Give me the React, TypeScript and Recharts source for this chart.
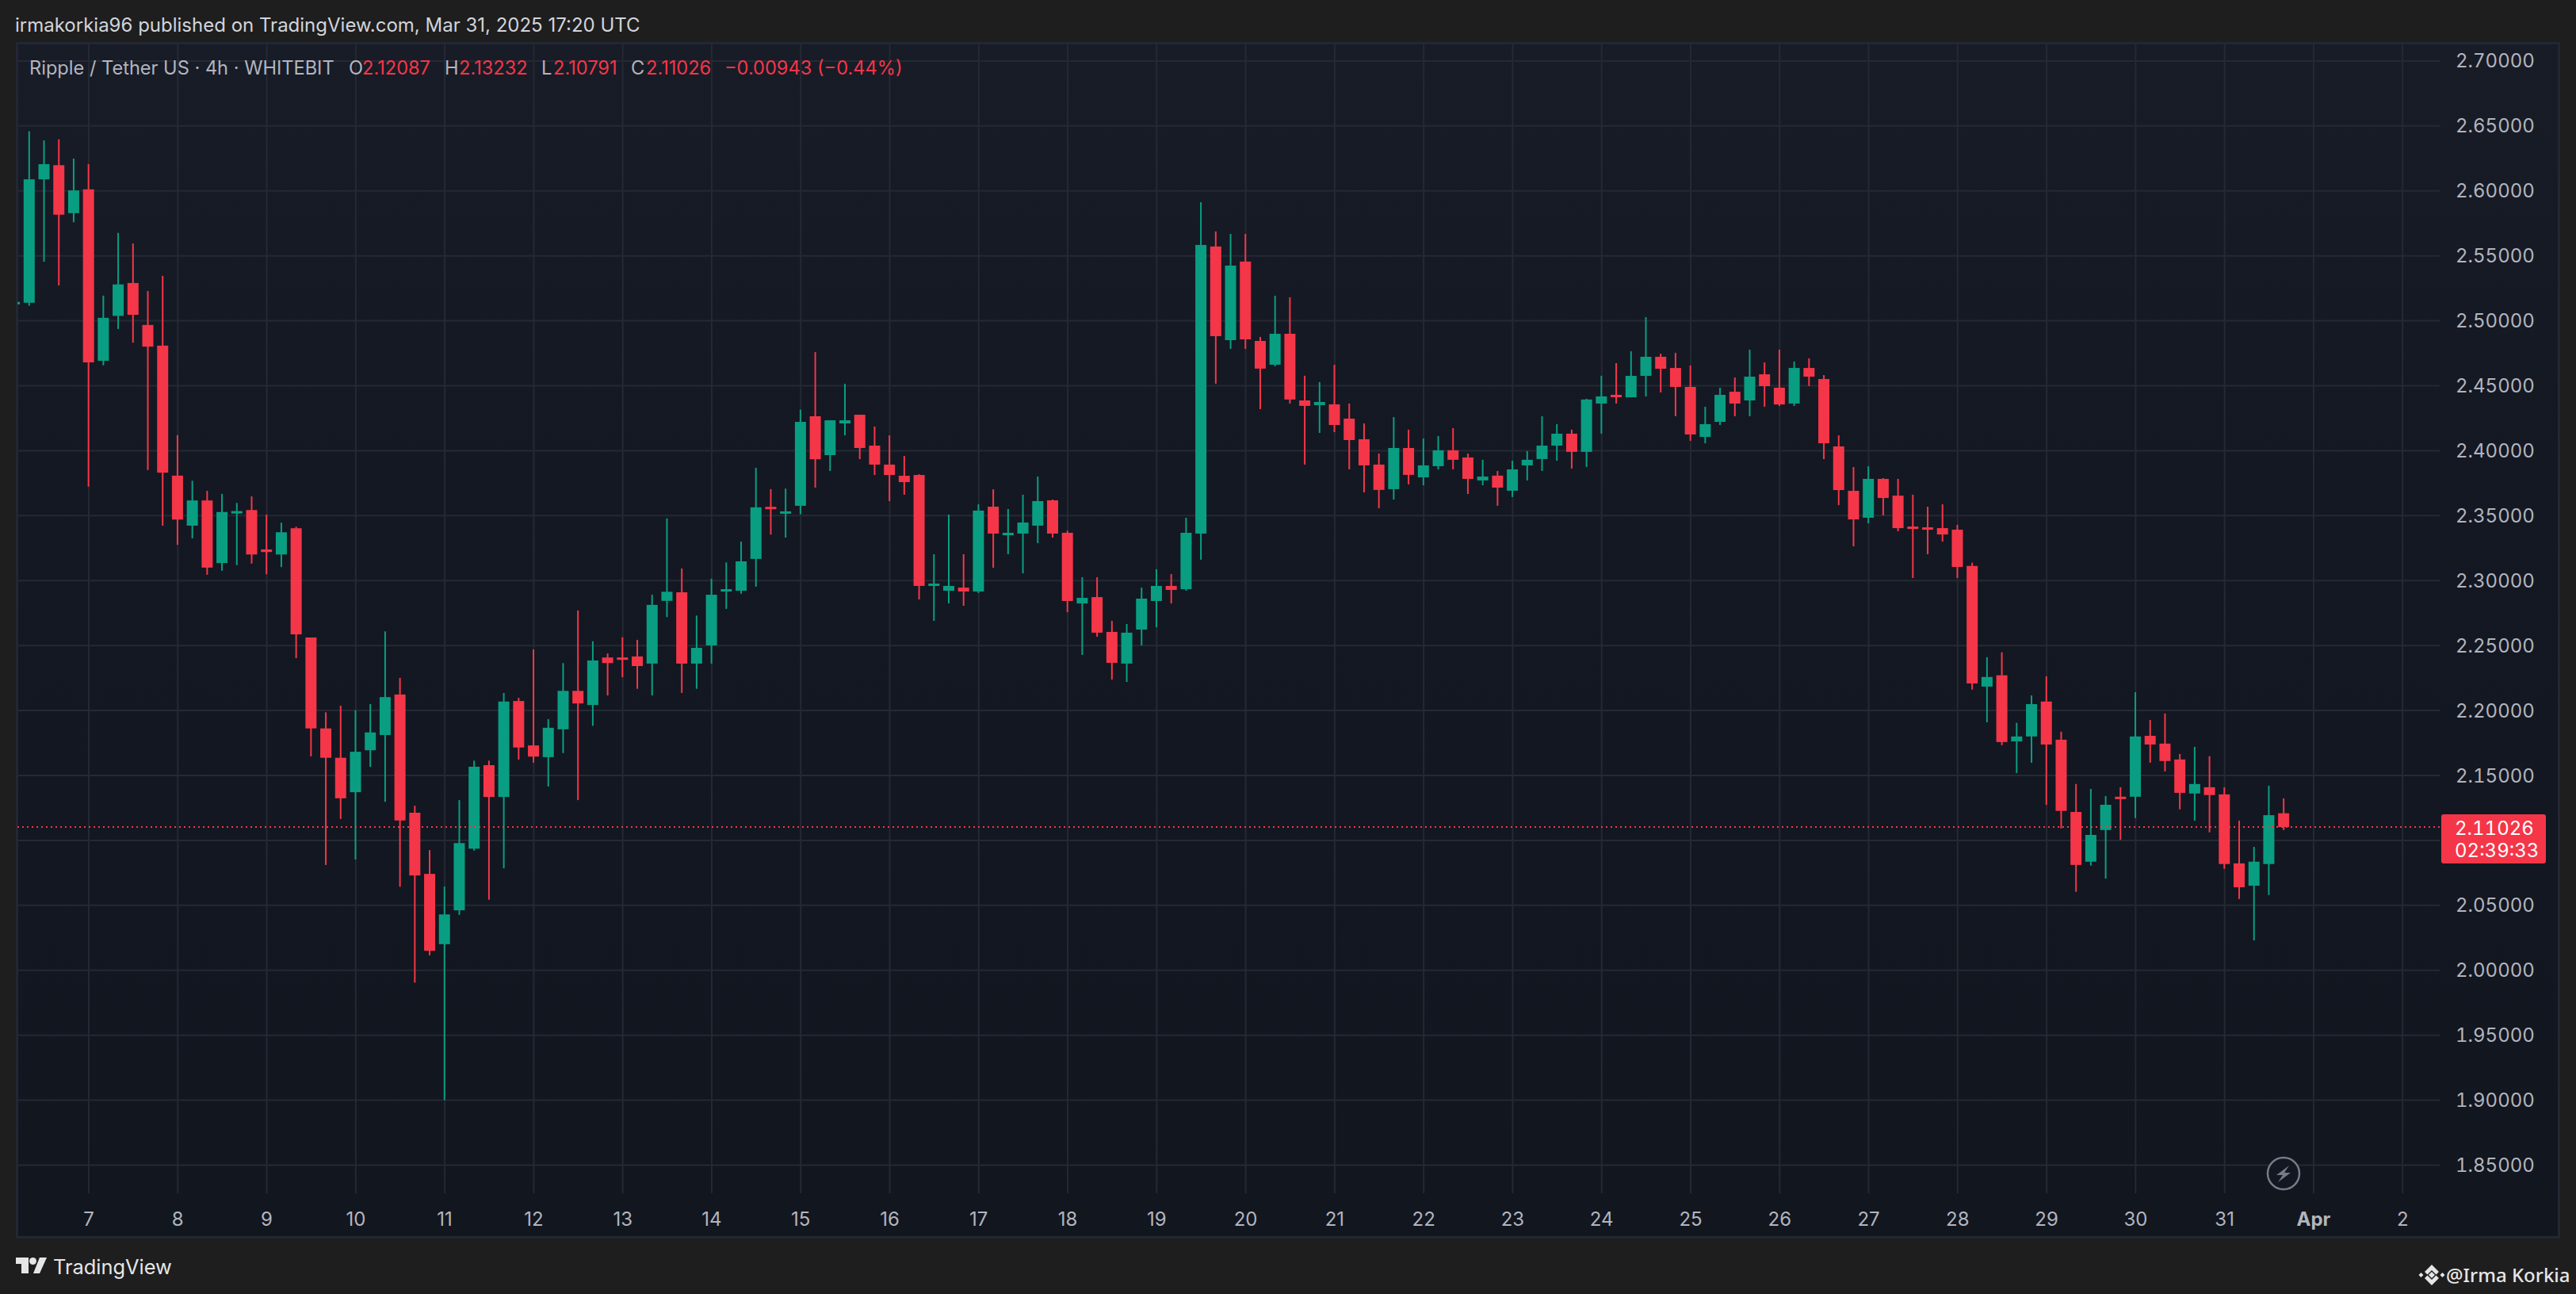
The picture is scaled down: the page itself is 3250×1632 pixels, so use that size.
import React from 'react'
import { ComposedChart, Bar, CartesianGrid, XAxis, YAxis, ReferenceLine } from 'recharts'

// 4h candles, Mar 6 04:00 to Mar 31 16:00, one row per day
const opens = [
  2.5130, 2.5139, 2.6089, 2.6198, 2.5829,
  2.6012, 2.4692, 2.5038, 2.5291, 2.4968, 2.4809,
  2.3808, 2.3423, 2.3617, 2.3135, 2.3524, 2.3543,
  2.3240, 2.3201, 2.3403, 2.2562, 2.1862, 2.1636,
  2.1371, 2.1694, 2.1811, 2.2123, 2.1213, 2.0742,
  2.0201, 2.0462, 2.0936, 2.1579, 2.1334, 2.2073,
  2.1731, 2.1641, 2.1855, 2.2151, 2.2042, 2.2408,
  2.2408, 2.2416, 2.2361, 2.2844, 2.2910, 2.2361,
  2.2501, 2.2922, 2.2922, 2.3167, 2.3568, 2.3521,
  2.3576, 2.4265, 2.3966, 2.4210, 2.4277, 2.4039,
  2.3893, 2.3807, 2.3813, 2.2965, 2.2922, 2.2946,
  2.2916, 2.3569, 2.3349, 2.3362, 2.3423, 2.3618,
  2.3368, 2.2824, 2.2873, 2.2605, 2.2361, 2.2623,
  2.2843, 2.2959, 2.2934, 2.3362, 2.5572, 2.4851,
  2.5456, 2.4845, 2.4662, 2.4900, 2.4387, 2.4351,
  2.4357, 2.4247, 2.4088, 2.3893, 2.3704, 2.4021,
  2.3795, 2.3881, 2.4003, 2.3948, 2.3771, 2.3808,
  2.3692, 2.3887, 2.3936, 2.4039, 2.4131, 2.3991,
  2.4363, 2.4430, 2.4411, 2.4576, 2.4723, 2.4637,
  2.4491, 2.4106, 2.4222, 2.4454, 2.4387, 2.4588,
  2.4485, 2.4363, 2.4637, 2.4552, 2.4033, 2.3691,
  2.3484, 2.3783, 2.3654, 2.3416, 2.3410, 2.3404,
  2.3392, 2.3113, 2.2184, 2.2271, 2.1762, 2.1800,
  2.2069, 2.1775, 2.1219, 2.0836, 2.1080, 2.1336,
  2.1336, 2.1805, 2.1745, 2.1623, 2.1361, 2.1409,
  2.1354, 2.0823, 2.0651, 2.0818, 2.12087,
]
const closes = [
  2.5145, 2.6089, 2.6206, 2.5817, 2.6004,
  2.4680, 2.5023, 2.5280, 2.5046, 2.4801, 2.3831,
  2.3470, 2.3617, 2.3100, 2.3528, 2.3535, 2.3201,
  2.3220, 2.3372, 2.2586, 2.1862, 2.1636, 2.1324,
  2.1682, 2.1831, 2.2103, 2.1153, 2.0730, 2.0150,
  2.0430, 2.0979, 2.1567, 2.1334, 2.2069, 2.1715,
  2.1645, 2.1867, 2.2151, 2.2054, 2.2385, 2.2365,
  2.2396, 2.2342, 2.2813, 2.2914, 2.2361, 2.2482,
  2.2891, 2.2934, 2.3148, 2.3564, 2.3556, 2.3533,
  2.4222, 2.3934, 2.4234, 2.4234, 2.4021, 2.3893,
  2.3813, 2.3758, 2.2959, 2.2977, 2.2959, 2.2916,
  2.3539, 2.3362, 2.3368, 2.3447, 2.3612, 2.3362,
  2.2843, 2.2867, 2.2599, 2.2367, 2.2599, 2.2861,
  2.2959, 2.2928, 2.3368, 2.5584, 2.4882, 2.5425,
  2.4857, 2.4632, 2.4900, 2.4394, 2.4345, 2.4375,
  2.4198, 2.4082, 2.3887, 2.3698, 2.4021, 2.3814,
  2.3887, 2.4003, 2.3930, 2.3783, 2.3801, 2.3716,
  2.3856, 2.3930, 2.4039, 2.4131, 2.3991, 2.4394,
  2.4418, 2.4417, 2.4576, 2.4723, 2.4631, 2.4491,
  2.4125, 2.4204, 2.4430, 2.4363, 2.4570, 2.4497,
  2.4356, 2.4637, 2.4570, 2.4057, 2.3697, 2.3471,
  2.3783, 2.3636, 2.3404, 2.3404, 2.3398, 2.3355,
  2.3105, 2.2208, 2.2258, 2.1757, 2.1800, 2.2049,
  2.1738, 2.1227, 2.0811, 2.1042, 2.1274, 2.1324,
  2.1800, 2.1738, 2.1611, 2.1366, 2.1434, 2.1349,
  2.0818, 2.0639, 2.0836, 2.1194, 2.11026,
]
const highs = [
  2.5146, 2.6459, 2.6389, 2.6397, 2.6249,
  2.6206, 2.5194, 2.5677, 2.5595, 2.5229, 2.5346,
  2.4120, 2.3769, 2.3691, 2.3668, 2.3598, 2.3648,
  2.3508, 2.3446, 2.3415, 2.2562, 2.1986, 2.2037,
  2.2002, 2.2049, 2.2609, 2.2251, 2.1267, 2.0925,
  2.0644, 2.1310, 2.1614, 2.1614, 2.2135, 2.2097,
  2.2470, 2.1933, 2.2365, 2.2770, 2.2533, 2.2439,
  2.2564, 2.2544, 2.2891, 2.3479, 2.3093, 2.2731,
  2.3015, 2.3140, 2.3300, 2.3868, 2.3704, 2.3708,
  2.4316, 2.4759, 2.4234, 2.4515, 2.4277, 2.4186,
  2.4118, 2.3960, 2.3819, 2.3203, 2.3508, 2.3203,
  2.3587, 2.3703, 2.3551, 2.3661, 2.3801, 2.3624,
  2.3384, 2.3026, 2.3026, 2.2690, 2.2666, 2.2946,
  2.3087, 2.3050, 2.3484, 2.5913, 2.5688, 2.5669,
  2.5669, 2.4876, 2.5193, 2.5181, 2.4577, 2.4528,
  2.4662, 2.4363, 2.4210, 2.3978, 2.4259, 2.4162,
  2.4094, 2.4113, 2.4174, 2.3978, 2.3930, 2.3844,
  2.3923, 2.3997, 2.4265, 2.4204, 2.4162, 2.4400,
  2.4577, 2.4674, 2.4765, 2.5028, 2.4747, 2.4753,
  2.4656, 2.4338, 2.4485, 2.4564, 2.4778, 2.4680,
  2.4778, 2.4686, 2.4711, 2.4582, 2.4118, 2.3874,
  2.3880, 2.3789, 2.3783, 2.3661, 2.3569, 2.3587,
  2.3429, 2.3138, 2.2410, 2.2448, 2.1905, 2.2116,
  2.2263, 2.1837, 2.1434, 2.1396, 2.1341, 2.1409,
  2.2141, 2.1927, 2.1977, 2.1665, 2.1720, 2.1648,
  2.1409, 2.1152, 2.0950, 2.1421, 2.13232,
]
const lows = [
  2.5130, 2.5116, 2.5455, 2.5272, 2.5759,
  2.3723, 2.4657, 2.4937, 2.4832, 2.3851, 2.3423,
  2.3275, 2.3325, 2.3045, 2.3076, 2.3119, 2.3131,
  2.3049, 2.3104, 2.2403, 2.1647, 2.0811, 2.1165,
  2.0853, 2.1566, 2.1297, 2.0643, 1.9905, 2.0115,
  1.9000, 2.0426, 2.0921, 2.0543, 2.0785, 2.1622,
  2.1598, 2.1415, 2.1672, 2.1310, 2.1882, 2.2116,
  2.2256, 2.2167, 2.2116, 2.2719, 2.2135, 2.2167,
  2.2361, 2.2782, 2.2899, 2.2953, 2.3354, 2.3331,
  2.3510, 2.3716, 2.3844, 2.4118, 2.3935, 2.3813,
  2.3612, 2.3661, 2.2855, 2.2690, 2.2824, 2.2806,
  2.2904, 2.3099, 2.3203, 2.3056, 2.3288, 2.3331,
  2.2757, 2.2428, 2.2568, 2.2238, 2.2220, 2.2501,
  2.2641, 2.2824, 2.2922, 2.3161, 2.4516, 2.4784,
  2.4784, 2.4320, 2.4650, 2.4363, 2.3893, 2.4137,
  2.4143, 2.3856, 2.3679, 2.3557, 2.3624, 2.3740,
  2.3734, 2.3856, 2.3856, 2.3667, 2.3734, 2.3576,
  2.3643, 2.3771, 2.3844, 2.3923, 2.3862, 2.3875,
  2.4131, 2.4363, 2.4411, 2.4417, 2.4448, 2.4265,
  2.4076, 2.4057, 2.4198, 2.4265, 2.4265, 2.4338,
  2.4344, 2.4344, 2.4497, 2.3935, 2.3581, 2.3264,
  2.3441, 2.3502, 2.3380, 2.3020, 2.3203, 2.3300,
  2.3020, 2.2161, 2.1909, 2.1733, 2.1518, 2.1598,
  2.1274, 2.1092, 2.0604, 2.0806, 2.0706, 2.1005,
  2.1172, 2.1598, 2.1531, 2.1239, 2.1152, 2.1062,
  2.0781, 2.0549, 2.0230, 2.0579, 2.10791,
]

const dayLabels = ['7', '8', '9', '10', '11', '12', '13', '14', '15', '16', '17', '18', '19', '20', '21', '22', '23', '24', '25', '26', '27', '28', '29', '30', '31', 'Apr', '2']
const priceTicks = [1.85, 1.9, 1.95, 2.0, 2.05, 2.1, 2.15, 2.2, 2.25, 2.3, 2.35, 2.4, 2.45, 2.5, 2.55, 2.6, 2.65, 2.7]
const lastPrice = 2.11026
const countdown = '02:39:33'

const UP = '#099e82'
const DOWN = '#f43648'
const GRID = '#252933'
const AXIS_TEXT = '#b2b5be'
const FONT = 'Inter, sans-serif'

// x is counted in candles from Mar 7 00:00
const data = opens.map((open, i) => ({
  t: i - 5,
  open,
  close: closes[i],
  high: highs[i],
  low: lows[i],
  range: [lows[i], highs[i]],
}))
const dayTicks = dayLabels.map((_, i) => i * 6)

const Candle = (props: any) => {
  const { x, y, width, height, payload } = props
  const { open, close, high, low } = payload
  const cx = x + width / 2
  const perUnit = height / (high - low)
  const top = y + (high - Math.max(open, close)) * perUnit
  const bodyH = Math.max(Math.abs(open - close) * perUnit, 3)
  const color = close >= open ? UP : DOWN
  return (
    <g>
      <rect x={cx - 1} y={y} width={2} height={height} fill={color} />
      <rect x={x} y={top} width={width} height={bodyH} fill={color} />
    </g>
  )
}

const DayTick = (props: any) => {
  const { x, y, payload } = props
  const label = dayLabels[payload.value / 6]
  return (
    <text x={x} y={y + 30} textAnchor="middle" dominantBaseline="central" fill={AXIS_TEXT} fontFamily={FONT} fontSize={24} fontWeight={label === 'Apr' ? 700 : 400}>
      {label}
    </text>
  )
}

const PriceTag = (props: any) => {
  const { x, y, width } = props.viewBox
  const left = x + width + 2
  const numStyle = { fontVariantNumeric: 'tabular-nums' }
  return (
    <g>
      <rect x={left} y={y - 16} width={132} height={62} rx={3} fill={DOWN} />
      <text x={left + 17} y={y + 1} dominantBaseline="central" fill="#ffffff" fontFamily={FONT} fontSize={24} style={numStyle}>{lastPrice.toFixed(5)}</text>
      <text x={left + 17} y={y + 29} dominantBaseline="central" fill="#ffffff" fontFamily={FONT} fontSize={24} style={numStyle}>{countdown}</text>
    </g>
  )
}

const Label = ({ x, y, color, size = 23.6, font = FONT, weight = 400, children }: any) => (
  <div style={{ position: 'absolute', left: x, top: y, transform: 'translateY(-50%)', color, fontSize: size, fontFamily: font, fontWeight: weight, whiteSpace: 'pre', lineHeight: 1.2 }}>
    {children}
  </div>
)

const App = () => {
  const o = opens[opens.length - 1]
  const c = closes[closes.length - 1]
  const h = highs[highs.length - 1]
  const l = lows[lows.length - 1]
  return (
    <div style={{ position: 'absolute', left: 0, top: 0, width: 3250, height: 1632, background: '#1e1e1e', overflow: 'hidden' }}>
      <div style={{ position: 'absolute', left: 20, top: 53, width: 3210, height: 1509, boxSizing: 'border-box', border: '3px solid #232733', background: 'linear-gradient(#181c27, #141823 35%, #12161f)' }} />

      <div style={{ position: 'absolute', left: 0, top: 0 }}>
        <ComposedChart width={3250} height={1632} data={data} margin={{ top: 55, right: 0, bottom: 0, left: 22 }} barSize={14}>
          <CartesianGrid stroke={GRID} strokeWidth={2} syncWithTicks />
          <XAxis dataKey="t" type="number" domain={[-4.81, 158.5]} ticks={dayTicks} interval={0} allowDataOverflow height={127} tickSize={0} axisLine={false} tickLine={false} tick={<DayTick />} />
          <YAxis orientation="right" type="number" domain={[1.8283, 2.7134]} ticks={priceTicks} interval={0} allowDataOverflow width={172} tickSize={0} tickMargin={20} axisLine={false} tickLine={false} tick={{ fill: AXIS_TEXT, fontSize: 24, fontFamily: FONT, style: { fontVariantNumeric: 'tabular-nums' } }} tickFormatter={(v: number) => (v === 2.1 ? '' : v.toFixed(5))} />
          <ReferenceLine y={lastPrice} stroke={DOWN} strokeWidth={2} strokeDasharray="2 4" label={<PriceTag />} />
          <Bar dataKey="range" shape={<Candle />} isAnimationActive={false} />
        </ComposedChart>
      </div>

      <Label x={19} y={32} color="#d1d4dc" size={24}>irmakorkia96 published on TradingView.com, Mar 31, 2025 17:20 UTC</Label>
      <Label x={37} y={86} color={AXIS_TEXT}>Ripple / Tether US · 4h · WHITEBIT</Label>
      <Label x={440} y={86} color={AXIS_TEXT}>O</Label>
      <Label x={457} y={86} color={DOWN}>{o.toFixed(5)}</Label>
      <Label x={561} y={86} color={AXIS_TEXT}>H</Label>
      <Label x={579} y={86} color={DOWN}>{h.toFixed(5)}</Label>
      <Label x={683} y={86} color={AXIS_TEXT}>L</Label>
      <Label x={698} y={86} color={DOWN}>{l.toFixed(5)}</Label>
      <Label x={796} y={86} color={AXIS_TEXT}>C</Label>
      <Label x={815} y={86} color={DOWN}>{c.toFixed(5)}</Label>
      <Label x={914} y={86} color={DOWN}>−0.00943 (−0.44%)</Label>

      <svg width={3250} height={1632} style={{ position: 'absolute', left: 0, top: 0, pointerEvents: 'none' }}>
        {/* lightning mark */}
        <circle cx={2881} cy={1480} r={20} fill="#131722" stroke="#787b86" strokeWidth={2.5} />
        <path d="M2888 1470 L2872 1482 L2880 1482 L2874 1491 L2890 1479 L2882 1479 Z" fill="#787b86" />
        {/* TradingView logo */}
        <path d="M20 1586 H36 V1606 H27 V1594 H20 Z" fill="#e6e6e6" />
        <circle cx={41.5} cy={1590.5} r={4.5} fill="#e6e6e6" />
        <path d="M50 1586 H59 L50 1606 H42 Z" fill="#e6e6e6" />
        {/* badge next to the author */}
        <path d="M3068 1595 L3077 1604 L3073.5 1607.5 L3068 1602 L3062.5 1607.5 L3059 1604 Z M3068 1621 L3077 1612 L3073.5 1608.5 L3068 1614 L3062.5 1608.5 L3059 1612 Z M3068 1604 L3072 1608 L3068 1612 L3064 1608 Z M3054.5 1605 L3057.5 1608 L3054.5 1611 L3051.5 1608 Z M3081.5 1605 L3084.5 1608 L3081.5 1611 L3078.5 1608 Z" fill="#e6e6e6" />
      </svg>
      <Label x={67} y={1598} color="#e6e6e6" size={25.4}>TradingView</Label>
      <Label x={3086} y={1608} color="#e6e6e6" size={24} font='"Noto Sans", sans-serif' weight={500}>@Irma Korkia</Label>
    </div>
  )
}

export default App
